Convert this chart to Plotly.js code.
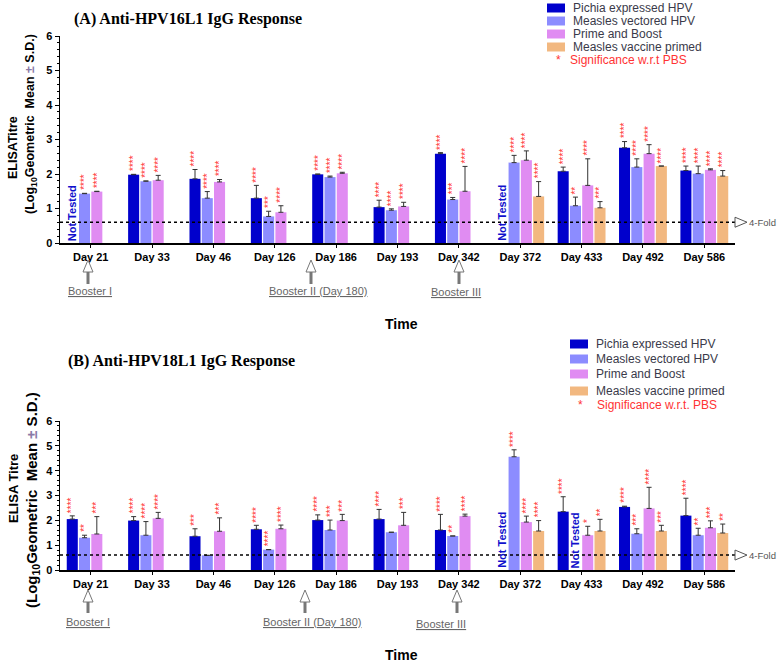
<!DOCTYPE html>
<html><head><meta charset="utf-8">
<script src="https://cdn.plot.ly/plotly-3.0.1.min.js"></script>
<style>html,body{margin:0;padding:0;background:#fff}</style>
</head><body>
<div id="chart" style="width:778px;height:666px"></div>
<script>
// ---------- DATA ----------
const days = ['Day 21','Day 33','Day 46','Day 126','Day 186','Day 193','Day 342','Day 372','Day 433','Day 492','Day 586'];
const groups = ['Pichia expressed HPV','Measles vectored HPV','Prime and Boost','Measles vaccine primed'];
const fourFold = Math.log10(4);

// Panel A : Anti-HPV16L1 (log10 geometric mean, S.D.)
const A_pichia    = [null,1.98,1.86,1.30,1.99,1.04,2.59,null,2.08,2.76,2.10];
const A_pichia_sd = [0,0.01,0.27,0.37,0.01,0.20,0.03,0,0.12,0.18,0.13];
const A_measles    = [1.43,1.79,1.30,0.77,1.91,0.95,1.26,2.33,1.08,2.20,2.01];
const A_measles_sd = [0.01,0.01,0.19,0.15,0.03,0.04,0.06,0.21,0.25,0.24,0.22];
const A_prime    = [1.49,1.82,1.77,0.89,2.02,1.06,1.50,2.40,1.67,2.59,2.12];
const A_prime_sd = [0.01,0.14,0.07,0.19,0.03,0.12,0.72,0.27,0.77,0.26,0.03];
const A_mvp    = [null,null,null,null,null,null,null,1.35,1.02,2.23,1.94];
const A_mvp_sd = [0,0,0,0,0,0,0,0.43,0.18,0,0.16];
const A_stars_pichia  = [0,4,4,4,4,4,4,0,4,4,4];
const A_stars_measles = [4,4,4,3,4,4,3,4,2,4,4];
const A_stars_prime   = [4,4,4,4,4,4,4,4,4,4,4];
const A_stars_mvp     = [0,0,0,0,0,0,0,4,3,4,4];
const A_notTested = [['Day 21',0],['Day 372',0]];

// Panel B : Anti-HPV18L1
const B_pichia    = [2.05,1.99,1.36,1.64,2.01,2.05,1.61,null,2.35,2.54,2.19];
const B_pichia_sd = [0.13,0.16,0.30,0.16,0.21,0.39,0.63,0,0.60,0.03,0.70];
const B_measles    = [1.30,1.40,0.59,0.82,1.61,1.52,1.37,4.56,null,1.46,1.40];
const B_measles_sd = [0.10,0.55,0,0,0.40,0,0,0.28,0,0.20,0.28];
const B_prime    = [1.45,2.08,1.56,1.66,1.99,1.80,2.17,1.93,1.40,2.48,1.70];
const B_prime_sd = [0.70,0.24,0.54,0.15,0.25,0.52,0.08,0.24,0.36,0.85,0.28];
const B_mvp    = [null,null,null,null,null,null,null,1.57,1.57,1.57,1.49];
const B_mvp_sd = [0,0,0,0,0,0,0,0.42,0.47,0.23,0.36];
const B_stars_pichia  = [4,4,3,4,4,4,4,0,4,4,4];
const B_stars_measles = [2,4,0,4,3,0,2,4,0,3,2];
const B_stars_prime   = [3,4,3,4,3,3,4,4,1,4,3];
const B_stars_mvp     = [0,0,0,0,0,0,0,4,2,3,2];
const B_notTested = [['Day 372',0],['Day 433',1]];

// ---------- STYLE / LAYOUT HELPERS ----------
const colors = ['#0000CC','#8C8CFF','#E08CF2','#F2B880'];
const W=778, H=666, ML=60, MR=43, MT=36, MB=96;
const PW=W-ML-MR, PH=H-MT-MB;
const px = p => (p-ML)/PW;
const py = p => (H-MB-p)/PH;
const slot = 0.2, barW = 0.18;
const off = k => -0.4 + slot*k + (slot-barW)/2;
const ctr = k => -0.4 + slot*k + slot/2;
const sans = 'Liberation Sans, Arial, sans-serif';

const panels = [
  {vals:[A_pichia,A_measles,A_prime,A_mvp], sds:[A_pichia_sd,A_measles_sd,A_prime_sd,A_mvp_sd],
   stars:[A_stars_pichia,A_stars_measles,A_stars_prime,A_stars_mvp], nt:A_notTested, xa:'x', ya:'y'},
  {vals:[B_pichia,B_measles,B_prime,B_mvp], sds:[B_pichia_sd,B_measles_sd,B_prime_sd,B_mvp_sd],
   stars:[B_stars_pichia,B_stars_measles,B_stars_prime,B_stars_mvp], nt:B_notTested, xa:'x2', ya:'y2'}
];

const traces = [];
const annotations = [];
const shapes = [];

panels.forEach(P => {
  P.vals.forEach((v,k) => {
    traces.push({
      type:'bar', x:days, y:v, name:groups[k], xaxis:P.xa, yaxis:P.ya,
      width:barW, offset:off(k), showlegend:false,
      marker:{color:colors[k], line:{width:0}},
      error_y:{type:'data', symmetric:false, array:P.sds[k], arrayminus:P.sds[k].map(()=>0),
               color:'#333', thickness:1, width:2.5}
    });
    // significance stars
    v.forEach((val,i) => {
      const n = P.stars[k][i];
      if (val===null || !n) return;
      annotations.push({xref:P.xa, yref:P.ya, x:i+ctr(k), y:val+P.sds[k][i],
        text:'*'.repeat(n), textangle:-90, showarrow:false, xanchor:'center', yanchor:'bottom',
        yshift:2, borderpad:0, font:{family:sans, size:10, color:'#FF3333'}});
    });
  });
  // Not Tested labels
  P.nt.forEach(([d,k]) => {
    annotations.push({xref:P.xa, yref:P.ya, x:days.indexOf(d)+ctr(k), y:0,
      text:'<b>Not Tested</b>', textangle:-90, showarrow:false, xanchor:'center', yanchor:'bottom',
      yshift:1, borderpad:0, font:{family:sans, size:11, color:'#1010CC'}});
  });
  // 4-fold reference line
  shapes.push({type:'line', xref:'paper', yref:P.ya, x0:0, x1:1, y0:fourFold, y1:fourFold,
    line:{color:'#000', width:1.5, dash:'dot'}});
});

// Domains
const domA = [py(243), py(36)];
const domB = [0, py(421)];
const valPy = (dom, v) => dom[0] + (dom[1]-dom[0])*v/6;

// 4-Fold markers
[domA, domB].forEach(dom => {
  const yl = valPy(dom, fourFold);
  const dy = 5/PH;
  shapes.push({type:'path', xref:'paper', yref:'paper',
    path:`M ${px(735)},${yl+dy} L ${px(747)},${yl} L ${px(735)},${yl-dy} Z`,
    fillcolor:'#fff', line:{color:'#555', width:1}});
  annotations.push({xref:'paper', yref:'paper', x:px(748), y:yl, xanchor:'left', yanchor:'middle',
    text:'4-Fold', showarrow:false, borderpad:0, font:{family:sans, size:9.5, color:'#555'}});
});

// Booster arrows + labels
const boosters = [
  // arrow x, head top, shaft bottom, label x, label y, text
  [88, 260, 284, 90, 291, 'Booster I'],
  [311, 260, 284, 318, 291, 'Booster II (Day 180)'],
  [459, 260, 284, 456, 292, 'Booster III'],
  [88, 590, 613, 88, 622, 'Booster I'],
  [305, 590, 613, 312, 622, 'Booster II (Day 180)'],
  [457, 590, 613, 441, 624, 'Booster III']
];
boosters.forEach(([ax, top, bot, lx, ly, t]) => {
  shapes.push({type:'line', xref:'paper', yref:'paper', x0:px(ax), x1:px(ax), y0:py(top+11), y1:py(bot),
    line:{color:'#777', width:3}});
  shapes.push({type:'path', xref:'paper', yref:'paper',
    path:`M ${px(ax)},${py(top)} L ${px(ax-5)},${py(top+12)} L ${px(ax+5)},${py(top+12)} Z`,
    fillcolor:'#fff', line:{color:'#777', width:1}});
  annotations.push({xref:'paper', yref:'paper', x:px(lx), y:py(ly), xanchor:'center', yanchor:'middle',
    text:'<u>'+t+'</u>', showarrow:false, font:{family:sans, size:11, color:'#666'}});
});

// Panel titles
annotations.push({xref:'paper', yref:'paper', x:px(188), y:py(19), xanchor:'center', yanchor:'middle', showarrow:false,
  text:'<b>(A) Anti-HPV16L1 IgG Response</b>', font:{family:'Liberation Serif, Times New Roman, serif', size:16, color:'#000'}});
annotations.push({xref:'paper', yref:'paper', x:px(181), y:py(361), xanchor:'center', yanchor:'middle', showarrow:false,
  text:'<b>(B) Anti-HPV18L1 IgG Response</b>', font:{family:'Liberation Serif, Times New Roman, serif', size:16, color:'#000'}});

// Y titles
const yt2 = '<b>(Log<sub>10</sub>Geometric  Mean <span style="color:#8a7aa8">±</span> S.D.)</b>';
annotations.push({xref:'paper', yref:'paper', x:px(13), y:py(148), xanchor:'center', yanchor:'middle', showarrow:false,
  textangle:-90, text:'<b>ELISATitre</b>', font:{family:sans, size:12.5, color:'#000'}});
annotations.push({xref:'paper', yref:'paper', x:px(31), y:py(124), xanchor:'center', yanchor:'middle', showarrow:false,
  textangle:-90, text:yt2, font:{family:sans, size:12.5, color:'#000'}});
annotations.push({xref:'paper', yref:'paper', x:px(13), y:py(489), xanchor:'center', yanchor:'middle', showarrow:false,
  textangle:-90, text:'<b>ELISA Titre</b>', font:{family:sans, size:13, color:'#000'}});
annotations.push({xref:'paper', yref:'paper', x:px(32), y:py(500), xanchor:'center', yanchor:'middle', showarrow:false,
  textangle:-90, text:yt2, font:{family:sans, size:15, color:'#000'}});

// X titles
[324, 655].forEach(y => annotations.push({xref:'paper', yref:'paper', x:px(401), y:py(y), xanchor:'center', yanchor:'middle',
  showarrow:false, borderpad:0, text:'<b>Time</b>', font:{family:sans, size:14, color:'#000'}}));

// Custom legends
const legends = [
  {sx:547, tx:572, rows:[8,21,34,47], sigX:558, sigTx:568, sigY:60, sig:'Significance w.r.t PBS'},
  {sx:570, tx:595, rows:[344,359,374,391], sigX:580, sigTx:595, sigY:405, sig:'Significance w.r.t. PBS'}
];
legends.forEach(Lg => {
  groups.forEach((g,k) => {
    const r = Lg.rows[k];
    shapes.push({type:'rect', xref:'paper', yref:'paper', x0:px(Lg.sx), x1:px(Lg.sx+18), y0:py(r-4.5), y1:py(r+4.5),
      fillcolor:colors[k], line:{width:0}});
    annotations.push({xref:'paper', yref:'paper', x:px(Lg.tx), y:py(r), xanchor:'left', yanchor:'middle', showarrow:false,
      borderpad:0, text:g, font:{family:sans, size:12, color:'#3a3a4a'}});
  });
  annotations.push({xref:'paper', yref:'paper', x:px(Lg.sigX), y:py(Lg.sigY), xanchor:'center', yanchor:'middle', showarrow:false,
    text:'*', font:{family:sans, size:12, color:'#FF3333'}});
  annotations.push({xref:'paper', yref:'paper', x:px(Lg.sigTx), y:py(Lg.sigY), xanchor:'left', yanchor:'middle', showarrow:false,
    text:Lg.sig, font:{family:sans, size:12, color:'#FF3333'}});
});

const xaxisBase = {type:'category', range:[-0.5,10.5], showline:true, linecolor:'#000', linewidth:1.5,
  ticks:'outside', ticklen:3, tickcolor:'#000', showgrid:false, zeroline:false,
  tickfont:{family:sans, size:11, color:'#000', weight:'bold'}, fixedrange:true};
const yaxisBase = {range:[0,6], dtick:1, showline:true, linecolor:'#000', linewidth:1.5,
  ticks:'outside', ticklen:4, tickcolor:'#000', showgrid:false, zeroline:false,
  minor:{ticks:'outside', ticklen:2, dtick:0.2, tickcolor:'#000', showgrid:false},
  tickfont:{family:sans, size:11, color:'#000', weight:'bold'}, fixedrange:true};

const layout = {
  width:W, height:H, margin:{l:ML, r:MR, t:MT, b:MB},
  paper_bgcolor:'#fff', plot_bgcolor:'#fff',
  barmode:'overlay', showlegend:false,
  font:{family:sans},
  xaxis:Object.assign({}, xaxisBase, {anchor:'y', domain:[0,1]}),
  yaxis:Object.assign({}, yaxisBase, {anchor:'x', domain:domA}),
  xaxis2:Object.assign({}, xaxisBase, {anchor:'y2', domain:[0,1]}),
  yaxis2:Object.assign({}, yaxisBase, {anchor:'x2', domain:domB}),
  annotations, shapes
};

Plotly.newPlot('chart', traces, layout, {displayModeBar:false, staticPlot:true});
</script>
</body></html>
